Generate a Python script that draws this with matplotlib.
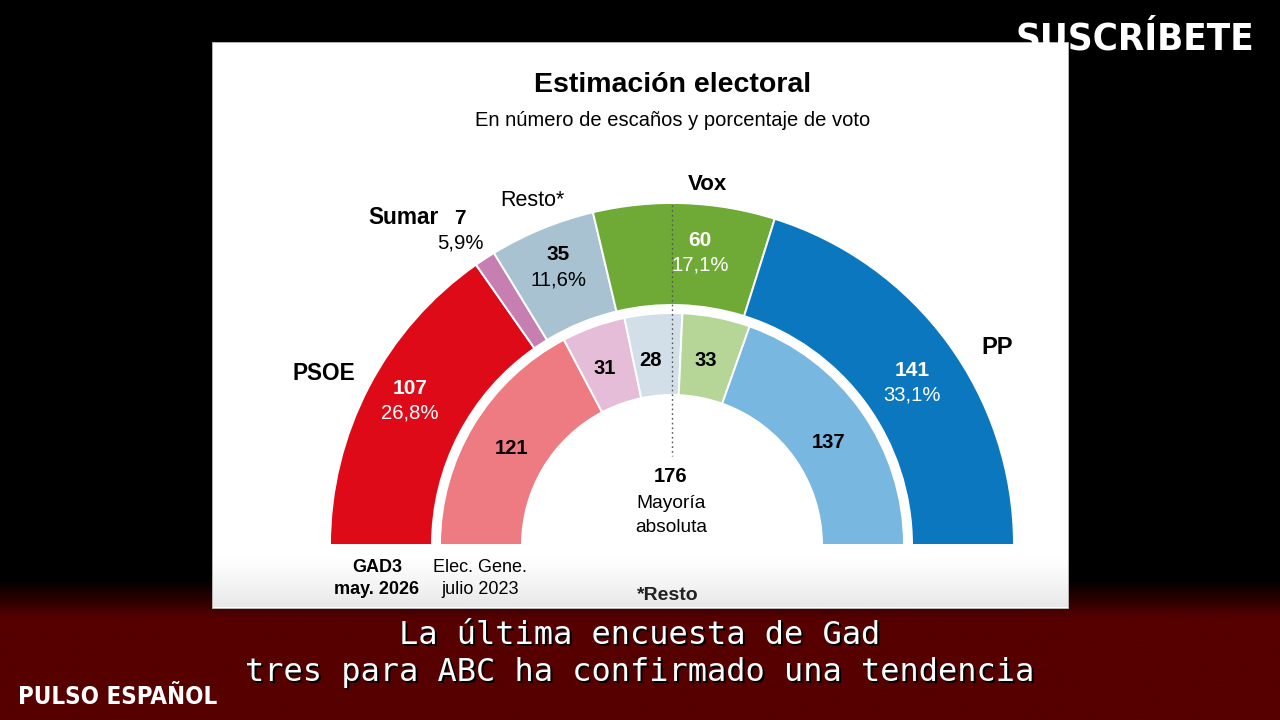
import numpy as np
import matplotlib
matplotlib.use("Agg")
import matplotlib.pyplot as plt
from matplotlib.patches import Rectangle

# ---------------- data ----------------
parties = ["PSOE", "Sumar", "Resto*", "Vox", "PP"]
seats_gad3 = [107, 7, 35, 60, 141]          # GAD3 may. 2026
vote_gad3 = ["26,8%", "5,9%", "11,6%", "17,1%", "33,1%"]
seats_2023 = [121, 31, 28, 33, 137]         # Elec. Gene. julio 2023
majority = 176
total_seats = 350

outer_colors = ["#df0a18", "#c77fb1", "#a9c2d1", "#70aa36", "#0a77bf"]
inner_colors = ["#ee7a82", "#e6bdd8", "#d3dfe8", "#b6d697", "#78b7e0"]

W, H = 1280, 720
CX, CY = 672, 720 - 545   # center of the hemicycle (y up)

FONT = "Liberation Sans"


def py(y):
    # pixel row (top origin) -> axes y
    return H - y


fig = plt.figure(figsize=(12.8, 7.2), dpi=100, facecolor="black")
ax = fig.add_axes([0, 0, 1, 1])
ax.set_facecolor("black")

# background: black fading into dark red at the bottom (row 0 = top)
t = np.clip((np.linspace(580, 720, 256) - 580) / 38, 0, 1)
bg = np.zeros((256, 1, 3))
bg[:, 0, 0] = (86 / 255) * t
ax.imshow(bg, extent=(0, W, py(720), py(580)), aspect="auto", zorder=0)

# white panel
ax.add_patch(Rectangle((212, py(608)), 1068 - 212, 608 - 42, facecolor="white",
                       edgecolor="#bbbbbb", lw=0.6, zorder=1))
# light grey shading at the panel bottom
shade = np.zeros((128, 1, 4))
shade[:, 0, 3] = np.linspace(0.0, 0.14, 128) ** 1.2
ax.imshow(shade, extent=(212.5, 1067.5, py(607.5), py(555)), aspect="auto", zorder=1.5)


# hemicycle rings: a hidden extra half makes the visible slices span 180 degrees
def ring(values, colors, r_out, width):
    vals = list(values) + [total_seats]
    cols = list(colors) + ["none"]
    wedges, _ = ax.pie(vals, colors=cols, startangle=180, counterclock=False,
                       radius=r_out, center=(CX, CY), frame=True,
                       wedgeprops=dict(width=width, edgecolor="white", linewidth=1.4))
    wedges[-1].set_visible(False)
    for w in wedges:
        w.set_zorder(3)
    return wedges


ring(seats_gad3, outer_colors, 342, 102)
ring(seats_2023, inner_colors, 232, 82)

ax.set_xlim(0, W)
ax.set_ylim(0, H)
ax.set_aspect("auto")
ax.axis("off")

# majority line
ax.plot([CX, CX], [py(205), py(456)], ls=(0, (1.2, 2.2)), color="#555555", lw=1.0, zorder=4)


def txt(x, y, s, size, bold=False, color="black", ha="center", family=FONT, **kw):
    ax.text(x, py(y), s, fontsize=size, fontweight="bold" if bold else "normal",
            color=color, ha=ha, va="center", family=family, zorder=6, **kw)


# titles
txt(673, 85, "Estimación electoral", 20.5, bold=True)
txt(673, 120, "En número de escaños y porcentaje de voto", 14.5)

# party names
txt(324, 373, "PSOE", 16.3, bold=True)
txt(403, 218, "Sumar", 16.3, bold=True)
txt(532, 201, "Resto*", 15.5)
txt(707, 185, "Vox", 16, bold=True)
txt(997, 347, "PP", 17, bold=True)

# outer ring labels (seats + vote)
outer_pos = [(410, 388, "white"), (460, 218, "black"), (558, 255, "black"),
             (700, 240, "white"), (912, 370, "white")]
for (x, y, c), s, v in zip(outer_pos, seats_gad3, vote_gad3):
    txt(x, y, str(s), 15, bold=True, color=c)
    txt(x, y + 25, v, 14.6, color=c)

# inner ring labels
inner_pos = [(511, 448), (605, 368), (651, 360), (706, 361), (829, 442)]
for (x, y), s in zip(inner_pos, seats_2023):
    txt(x, y, str(s), 14.5, bold=True)

# majority text
txt(671, 477, str(majority), 14.5, bold=True)
txt(671, 504, "Mayoría", 13.8)
txt(671, 528, "absoluta", 13.8)

# ring captions
txt(377, 568, "GAD3", 13, bold=True)
txt(377, 589, "may. 2026", 13, bold=True)
txt(480, 568, "Elec. Gene.", 13)
txt(480, 589, "julio 2023", 13)
txt(668, 595, "*Resto", 14, bold=True, color="#222222")

# video overlays
sub1 = "La última encuesta de Gad"
sub2 = "tres para ABC ha confirmado una tendencia"
for dx, dy, c in [(2, -2, "black"), (0, 0, "white")]:
    ax.text(640 + dx, py(635) + dy, sub1, fontsize=23, family="DejaVu Sans Mono",
            color=c, ha="center", va="center", zorder=7)
    ax.text(640 + dx, py(673) + dy, sub2, fontsize=23, family="DejaVu Sans Mono",
            color=c, ha="center", va="center", zorder=7)

ax.text(118, py(697), "PULSO ESPAÑOL", fontsize=17.3, fontweight="bold", family="DejaVu Sans",
        fontstretch="condensed", color="white", ha="center", va="center", zorder=7)
ax.text(1135, py(40), "SUSCRÍBETE", fontsize=27.5, fontweight="bold", family="DejaVu Sans",
        fontstretch="condensed", color="white", ha="center", va="center", zorder=7)

fig.savefig("out.png", dpi=100, facecolor="black")
